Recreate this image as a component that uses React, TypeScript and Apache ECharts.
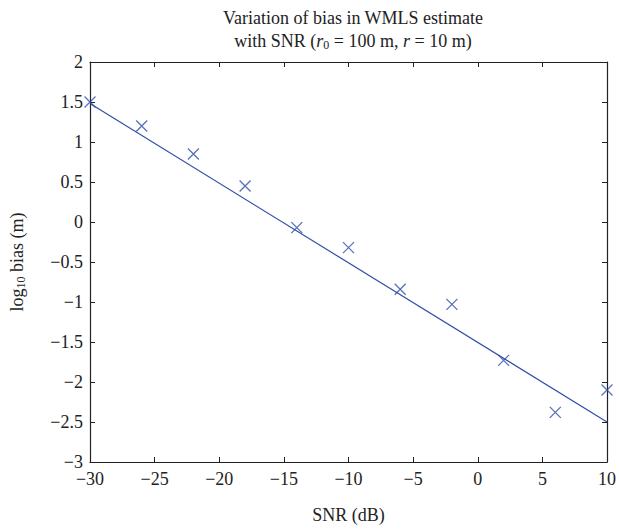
import React, { useEffect, useRef } from "react";
import * as echarts from "echarts";

const snrDb = [-30, -26, -22, -18, -14, -10, -6, -2, 2, 6, 10];
const logBias = [1.5, 1.2, 0.85, 0.45, -0.07, -0.32, -0.84, -1.03, -1.73, -2.38, -2.1];
const fitX = [-30, 10];
const fitY = [1.48, -2.5];

const xTicks = { min: -30, max: 10, interval: 5 };
const yTicks = { min: -3, max: 2, interval: 0.5 };

const BLUE = "#2f4ea6";
const FONT = "Liberation Serif";

const fmt = (v: number) => {
  const s = String(Math.abs(v));
  return v < 0 ? "\u2212" + s : s;
};

export default function App() {
  const ref = useRef<HTMLDivElement>(null);
  useEffect(() => {
    if (!ref.current) return;
    const chart = echarts.init(ref.current, null, { renderer: "svg" });
    const axisCommon = {
      axisLine: { show: true, onZero: false, lineStyle: { color: "#222", width: 1.2 } },
      axisTick: { show: true, inside: true, length: 5, lineStyle: { color: "#222" } },
      splitLine: { show: false },
    };
    chart.setOption({
      animation: false,
      backgroundColor: "#fff",
      textStyle: { fontFamily: FONT },
      title: {
        left: 348,
        top: 1,
        textAlign: "center",
        text:
          "{n|Variation of bias in WMLS estimate}\n{n|with SNR (}{i|r}{s|0}{n| = 100 m, }{i|r}{n| = 10 m)}",
        textStyle: {
          fontWeight: "normal",
          rich: {
            n: { fontFamily: FONT, fontSize: 18, color: "#222", lineHeight: 23, fontWeight: "normal" },
            i: { fontFamily: FONT, fontSize: 18, color: "#222", fontStyle: "italic", lineHeight: 23, fontWeight: "normal" },
            s: { fontFamily: FONT, fontSize: 12, color: "#222", lineHeight: 23, padding: [8, 0, 0, 0], fontWeight: "normal" },
          },
        },
      },
      grid: { left: 88, right: 12, top: 62, bottom: 62 },
      xAxis: [
        {
          type: "value",
          position: "bottom",
          ...xTicks,
          ...axisCommon,
          axisLabel: { color: "#222", fontSize: 18, fontFamily: FONT, margin: 8, formatter: fmt },
          name: "SNR (dB)",
          nameLocation: "middle",
          nameGap: 44,
          nameTextStyle: { color: "#222", fontSize: 18, fontFamily: FONT },
        },
        {
          type: "value",
          position: "top",
          ...xTicks,
          ...axisCommon,
          axisLabel: { show: false },
        },
      ],
      yAxis: [
        {
          type: "value",
          position: "left",
          ...yTicks,
          ...axisCommon,
          axisLabel: { color: "#222", fontSize: 18, fontFamily: FONT, margin: 7, formatter: fmt },
          name: "{n|log}{s|10}{n| bias (m)}",
          nameLocation: "middle",
          nameGap: 63,
          nameTextStyle: {
            rich: {
              n: { fontFamily: FONT, fontSize: 18, color: "#222" },
              s: { fontFamily: FONT, fontSize: 12, color: "#222", padding: [8, 0, 0, 0] },
            },
          },
        },
        {
          type: "value",
          position: "right",
          ...yTicks,
          ...axisCommon,
          axisLabel: { show: false },
        },
      ],
      series: [
        {
          type: "line",
          data: fitX.map((x, i) => [x, fitY[i]]),
          showSymbol: false,
          symbol: "none",
          lineStyle: { color: BLUE, width: 1.2 },
          z: 2,
        },
        {
          type: "scatter",
          data: snrDb.map((x, i) => [x, logBias[i]]),
          symbol: "path://M0,0L10,10M10,0L0,10",
          symbolSize: 11,
          itemStyle: { color: "none", borderColor: BLUE, borderWidth: 1.3 },
          clip: false,
          z: 3,
        },
      ],
    });
    return () => chart.dispose();
  }, []);
  return (
    <div
      ref={ref}
      style={{ position: "absolute", left: 0, top: 0, width: 619, height: 529 }}
    />
  );
}
